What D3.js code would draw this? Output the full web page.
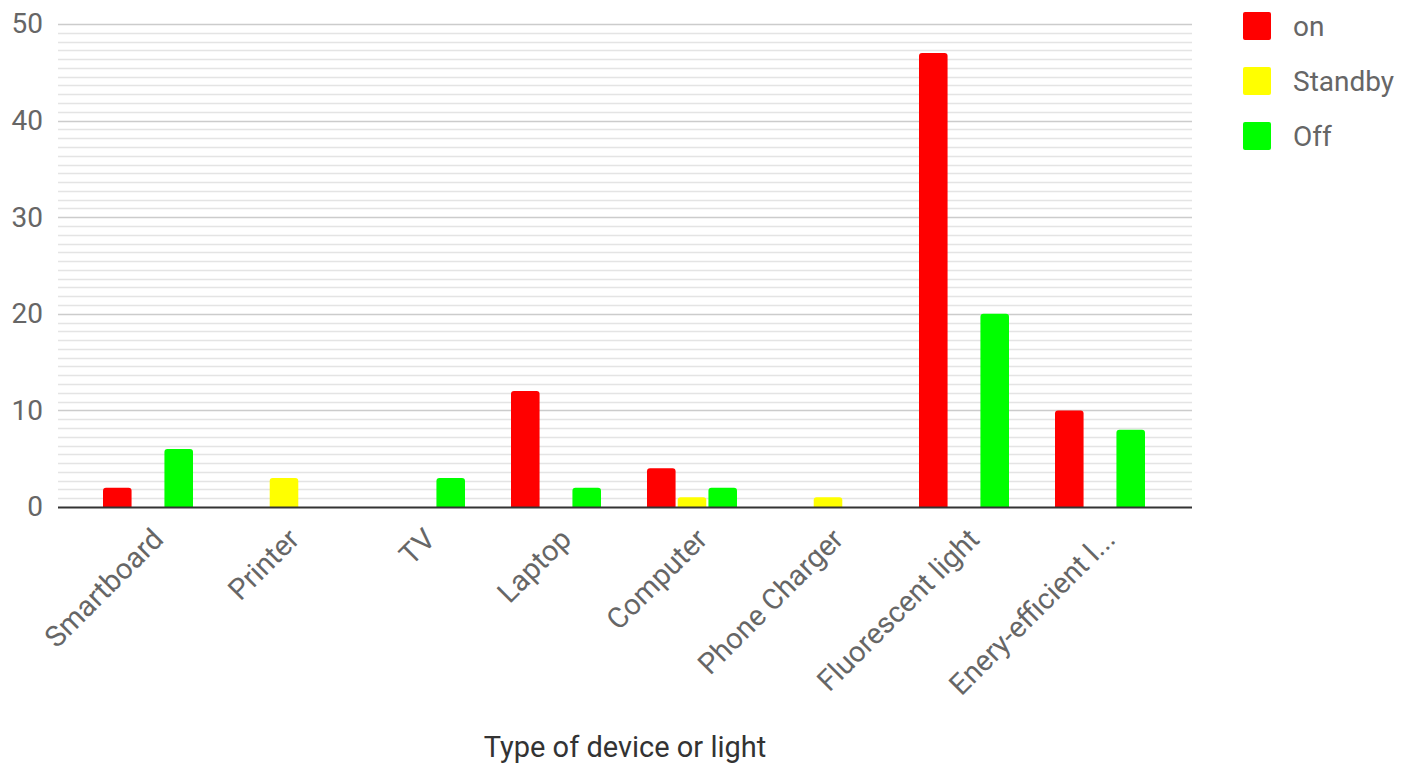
<!DOCTYPE html>
<html>
<head>
<meta charset="utf-8">
<script src="https://cdn.jsdelivr.net/npm/d3@7"></script>
<style>
  body { margin: 0; background: #fff; }
  svg { display: block; font-family: Roboto, Arial, sans-serif; }
</style>
</head>
<body>
<svg id="chart" width="1418" height="771"></svg>
<script>
// Chart data
const categories = ["Smartboard", "Printer", "TV", "Laptop", "Computer", "Phone Charger", "Fluorescent light", "Enery-efficient l..."];
const seriesNames = ["on", "Standby", "Off"];
const onValues = [2, 0, 0, 12, 4, 0, 47, 10];
const standbyValues = [0, 3, 0, 0, 1, 1, 0, 0];
const offValues = [6, 0, 3, 2, 2, 0, 20, 8];
const seriesColors = ["#ff0000", "#ffff00", "#00ff00"];
const yTicks = [0, 10, 20, 30, 40, 50];
const xTitle = "Type of device or light";

const seriesValues = [onValues, standbyValues, offValues];

function drawChart() {
    const svg = d3.select("#chart");
    const plot = { left: 58, right: 1192, top: 24, bottom: 507 };

    // group scale, leaves a bit of room at both ends like the original
    const x0 = d3.scaleBand()
        .domain(categories)
        .range([80, 1168])
        .paddingInner(0);

    // series inside a group
    const x1 = d3.scaleBand()
        .domain(seriesNames)
        .range([x0.bandwidth() / 2 - 45, x0.bandwidth() / 2 + 45])
        .paddingInner(0.07);

    const y = d3.scaleLinear()
        .domain([0, 50])
        .range([plot.bottom, plot.top]);

    // minor grid lines (11 steps between majors)
    const minor = [];
    for (let m = 0; m < 50; m += 10) {
        for (let k = 1; k < 11; k++) minor.push(m + k * 10 / 11);
    }
    svg.append("g")
        .attr("class", "grid minor")
        .selectAll("line")
        .data(minor)
        .join("line")
        .attr("x1", plot.left)
        .attr("x2", plot.right)
        .attr("y1", d => Math.round(y(d)) + 0.5)
        .attr("y2", d => Math.round(y(d)) + 0.5)
        .attr("stroke", "#e4e4e4")
        .attr("stroke-width", 1.5);

    // major grid lines
    svg.append("g")
        .attr("class", "grid major")
        .selectAll("line")
        .data(yTicks.filter(d => d > 0))
        .join("line")
        .attr("x1", plot.left)
        .attr("x2", plot.right)
        .attr("y1", d => Math.round(y(d)) + 0.5)
        .attr("y2", d => Math.round(y(d)) + 0.5)
        .attr("stroke", "#cccccc")
        .attr("stroke-width", 1.5);

    // Y axis labels
    const yAxis = svg.append("g")
        .attr("class", "axis y-axis")
        .attr("transform", `translate(${plot.left},0)`)
        .call(d3.axisLeft(y).tickValues(yTicks).tickSize(0).tickPadding(15));
    yAxis.select(".domain").remove();
    yAxis.selectAll("text")
        .attr("font-size", 28)
        .attr("font-family", "Roboto, Arial, sans-serif")
        .attr("fill", "#666");

    // bars
    const groups = svg.append("g")
        .attr("class", "bars")
        .selectAll("g")
        .data(categories)
        .join("g")
        .attr("transform", d => `translate(${x0(d)},0)`);

    groups.selectAll("path")
        .data((d, i) => seriesNames.map((s, j) => ({ s: s, v: seriesValues[j][i], c: seriesColors[j] })))
        .join("path")
        .filter(d => d.v > 0)
        .attr("fill", d => d.c)
        .attr("d", d => {
            const bx = x1(d.s), bw = x1.bandwidth();
            const top = y(d.v), bot = y(0), r = 3;
            return `M${bx},${bot} V${top + r} Q${bx},${top} ${bx + r},${top} H${bx + bw - r} Q${bx + bw},${top} ${bx + bw},${top + r} V${bot} Z`;
        });

    // baseline
    svg.append("line")
        .attr("x1", plot.left)
        .attr("x2", plot.right)
        .attr("y1", y(0) + 0.5)
        .attr("y2", y(0) + 0.5)
        .attr("stroke", "#333")
        .attr("stroke-width", 2);

    // X axis labels, rotated
    const xAxis = svg.append("g")
        .attr("class", "axis x-axis")
        .attr("transform", `translate(0,${plot.bottom})`)
        .call(d3.axisBottom(x0).tickSize(0).tickPadding(0));
    xAxis.select(".domain").remove();
    xAxis.selectAll("text")
        .attr("font-size", 29)
        .attr("font-family", "Roboto, Arial, sans-serif")
        .attr("fill", "#666")
        .attr("text-anchor", "end")
        .attr("dy", 0)
        .attr("transform", "translate(17,34) rotate(-45)");

    // X axis title
    svg.append("text")
        .attr("x", 625)
        .attr("y", 757)
        .attr("text-anchor", "middle")
        .attr("font-size", 29)
        .attr("fill", "#333")
        .text(xTitle);

    // legend
    const legend = svg.append("g")
        .attr("class", "legend")
        .attr("transform", "translate(1243,12)")
        .selectAll("g")
        .data(seriesNames)
        .join("g")
        .attr("transform", (d, i) => `translate(0,${i * 55})`);
    legend.append("rect")
        .attr("width", 28)
        .attr("height", 28)
        .attr("rx", 2)
        .attr("fill", (d, i) => seriesColors[i]);
    legend.append("text")
        .attr("x", 50)
        .attr("y", 24)
        .attr("font-size", 28)
        .attr("fill", "#666")
        .text(d => d);
}

drawChart();
</script>
</body>
</html>
